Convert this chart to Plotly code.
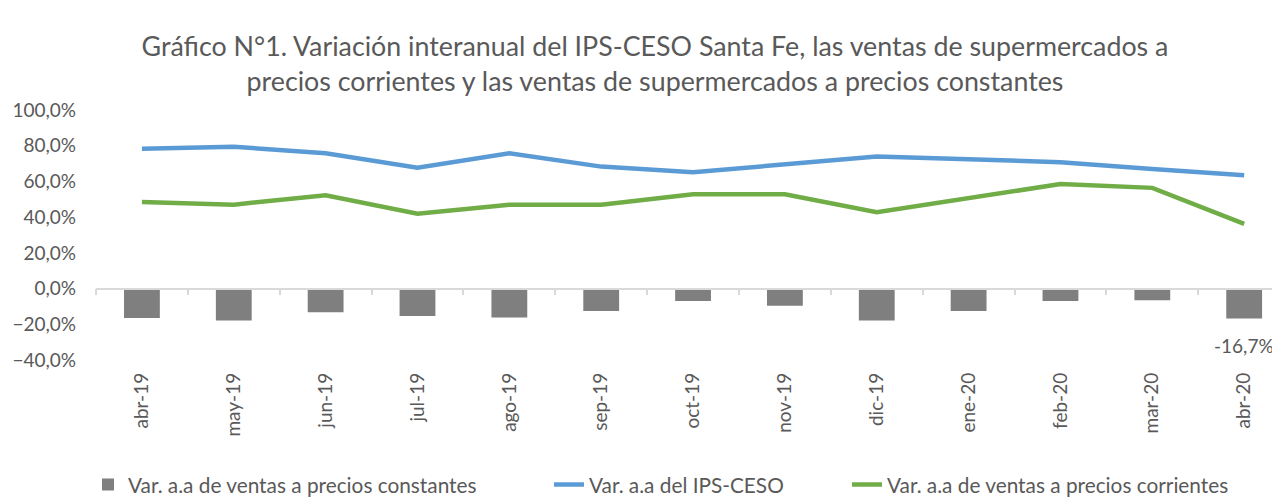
import plotly.graph_objects as go

months = ["abr-19", "may-19", "jun-19", "jul-19", "ago-19", "sep-19", "oct-19",
          "nov-19", "dic-19", "ene-20", "feb-20", "mar-20", "abr-20"]
var_constantes = [-16.5, -17.9, -13.2, -15.3, -16.2, -12.5, -7.0, -9.6, -17.9, -12.5, -7.0, -6.6, -16.7]
var_ips_ceso = [78.3, 79.4, 75.8, 67.7, 75.8, 68.3, 65.1, 69.5, 74.0, 72.4, 70.8, 67.0, 63.4]
var_corrientes = [48.5, 47.0, 52.3, 41.9, 47.0, 47.0, 52.8, 52.8, 42.8, 50.8, 58.5, 56.4, 36.2]

names = ["Var. a.a de ventas a precios constantes",
         "Var. a.a del IPS-CESO",
         "Var. a.a de ventas a precios corrientes"]
title_text = ("Gráfico N°1. Variación interanual del IPS-CESO Santa Fe, las ventas de supermercados a<br>"
              "precios corrientes y las ventas de supermercados a precios constantes")

FONT = "Lato"
GREY_TXT = "#595959"
# the page body has an 8px default margin, so the figure is sized to fit the 1280x497 window
OFF = 8
W, H = 1280 - OFF, 497 - OFF
L, R, T, B = 96 - OFF, 0, 110 - OFF, 137
YMIN, YMAX = -40, 100

fig = go.Figure()
fig.add_trace(go.Bar(x=months, y=var_constantes, name=names[0], width=0.39,
                     marker=dict(color="#7f7f7f", line=dict(width=0)),
                     legend="legend"))
fig.add_trace(go.Scatter(x=months, y=var_ips_ceso, name=names[1], mode="lines",
                         line=dict(color="#5b9bd5", width=4.5), legend="legend2"))
fig.add_trace(go.Scatter(x=months, y=var_corrientes, name=names[2], mode="lines",
                         line=dict(color="#70ad47", width=4.5), legend="legend3"))
# helper trace to host the zero-line category axis
fig.add_trace(go.Scatter(x=months, y=[None] * len(months), xaxis="x2", showlegend=False,
                         hoverinfo="skip", mode="lines"))

last = var_constantes[-1]
fig.add_annotation(x=months[-1], y=last, text=f"{last:.1f}%".replace(".", ","),
                   showarrow=False, yanchor="top", yshift=-14,
                   font=dict(family=FONT, size=19, color=GREY_TXT))

xr = [-0.5, 12.39]
zero_pos = (0 - YMIN) / (YMAX - YMIN)

leg_common = dict(orientation="h", yanchor="middle", y=1 - (485 - OFF) / H, yref="container",
                  xanchor="left", xref="container",
                  font=dict(family=FONT, size=20.8, color=GREY_TXT), bgcolor="rgba(0,0,0,0)")

fig.update_layout(
    width=W, height=H,
    margin=dict(l=L, r=R, t=T, b=B, autoexpand=False),
    paper_bgcolor="white", plot_bgcolor="white",
    separators=",.",
    font=dict(family=FONT, color=GREY_TXT, size=19),
    title=dict(text=title_text, x=(655 - OFF) / W, xanchor="center", xref="container",
               y=1 - 48 / H, yanchor="middle", yref="container",
               font=dict(family=FONT, size=26.8, color=GREY_TXT)),
    xaxis=dict(type="category", range=xr, showgrid=False, showline=False, zeroline=False,
               ticks="", tickangle=-90, ticklabelstandoff=8,
               tickfont=dict(family=FONT, size=19, color=GREY_TXT)),
    xaxis2=dict(type="category", range=xr, overlaying="x", anchor="free", position=zero_pos,
                showgrid=False, showline=True, linecolor="#d9d9d9", linewidth=1.5,
                ticks="outside", tickson="boundaries", ticklen=6, tickcolor="#d9d9d9",
                tickwidth=1.5, showticklabels=False, zeroline=False),
    yaxis=dict(range=[YMIN, YMAX], dtick=20, tickformat=".1f", ticksuffix="%",
               showgrid=False, zeroline=False, showline=False, ticks="",
               ticklabelstandoff=19,
               tickfont=dict(family=FONT, size=19, color=GREY_TXT)),
    legend=dict(x=(88 - OFF) / W, **leg_common),
    legend2=dict(x=(549 - OFF) / W, **leg_common),
    legend3=dict(x=(847 - OFF) / W, **leg_common),
    hovermode=False,
    bargap=0.6,
)

fig.write_html("out.html")
